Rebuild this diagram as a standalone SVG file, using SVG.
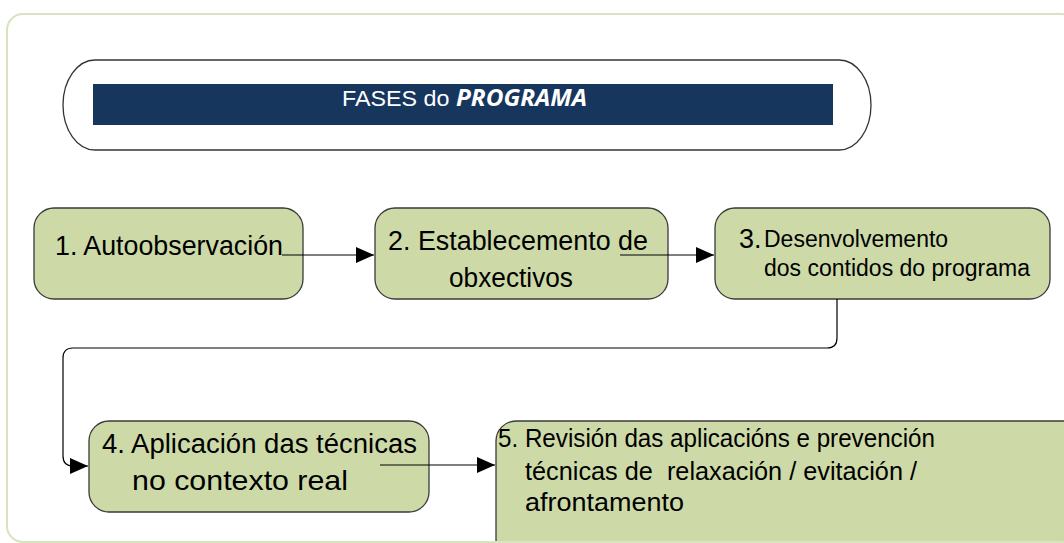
<svg xmlns="http://www.w3.org/2000/svg" width="1064" height="543" viewBox="0 0 1064 543">
<style>
.node{fill:#cddaa8;stroke:#3a3a3a;stroke-width:1.3}
.t{font-family:"Liberation Sans",Arial,sans-serif;fill:#000}
.conn{fill:none;stroke:#000;stroke-width:1.2}
</style>
<defs>
<marker id="arr" viewBox="0 0 18 16" refX="18" refY="8" markerWidth="18" markerHeight="16" markerUnits="userSpaceOnUse" orient="auto">
<path d="M0,0 L18,8 L0,16 Z" fill="#000"/>
</marker>
</defs>
<rect width="1064" height="543" fill="#fff"/>
<g id="title">
<rect x="63" y="60" width="808" height="90" rx="32" ry="45" fill="#fff" stroke="#333" stroke-width="1.3"/>
<rect x="93" y="84" width="740" height="41" fill="#17365d"/>
<text x="342" y="106" font-size="22.5" fill="#fff" font-family="Liberation Sans, Arial, sans-serif" textLength="245" lengthAdjust="spacingAndGlyphs">FASES do <tspan font-family="Open Sans, sans-serif" font-weight="bold" font-style="italic" font-size="23.5">PROGRAMA</tspan></text>
</g>
<g id="node1">
<rect class="node" x="34" y="208" width="269" height="91" rx="20"/>
<text class="t" x="55" y="255" font-size="28" textLength="228" lengthAdjust="spacingAndGlyphs">1. Autoobservación</text>
</g>
<g id="node2">
<rect class="node" x="375" y="208" width="293" height="91" rx="20"/>
<text class="t" x="388" y="250" font-size="27" textLength="260" lengthAdjust="spacingAndGlyphs">2. Establecemento de</text>
<text class="t" x="449" y="287" font-size="27" textLength="124" lengthAdjust="spacingAndGlyphs">obxectivos</text>
</g>
<g id="node3">
<rect class="node" x="715" y="208" width="335" height="91" rx="20"/>
<text class="t" x="739" y="248" font-size="27">3.</text>
<text class="t" x="764" y="247" font-size="23">Desenvolvemento</text>
<text class="t" x="764" y="276" font-size="23">dos contidos do programa</text>
</g>
<g id="node4">
<rect class="node" x="89" y="421" width="340" height="91" rx="20"/>
<text class="t" x="102" y="453" font-size="27" textLength="315" lengthAdjust="spacingAndGlyphs">4. Aplicación das técnicas</text>
<text class="t" x="132" y="490" font-size="28" textLength="216" lengthAdjust="spacingAndGlyphs">no contexto real</text>
</g>
<g id="node5">
<rect class="node" x="496" y="421" width="600" height="150" rx="20"/>
<text class="t" x="498" y="447" font-size="25" textLength="437" lengthAdjust="spacingAndGlyphs">5. Revisión das aplicacións e prevención</text>
<text class="t" x="525" y="480" font-size="25" xml:space="preserve" textLength="392" lengthAdjust="spacingAndGlyphs">técnicas de  relaxación / evitación /</text>
<text class="t" x="525" y="511" font-size="25" textLength="159" lengthAdjust="spacingAndGlyphs">afrontamento</text>
</g>
<g id="connectors">
<path class="conn" d="M282,255 H374" marker-end="url(#arr)"/>
<path class="conn" d="M620,255 H714" marker-end="url(#arr)"/>
<path class="conn" d="M837,299 V338 Q837,348 827,348 H73 Q63,348 63,358 V456 Q63,466 73,466 H88" marker-end="url(#arr)"/>
<path class="conn" d="M380,465 H495" marker-end="url(#arr)"/>
</g>
<rect id="frame" x="7" y="14" width="1070" height="528" rx="16" fill="none" stroke="#d7e4bd" stroke-width="2"/>
</svg>
